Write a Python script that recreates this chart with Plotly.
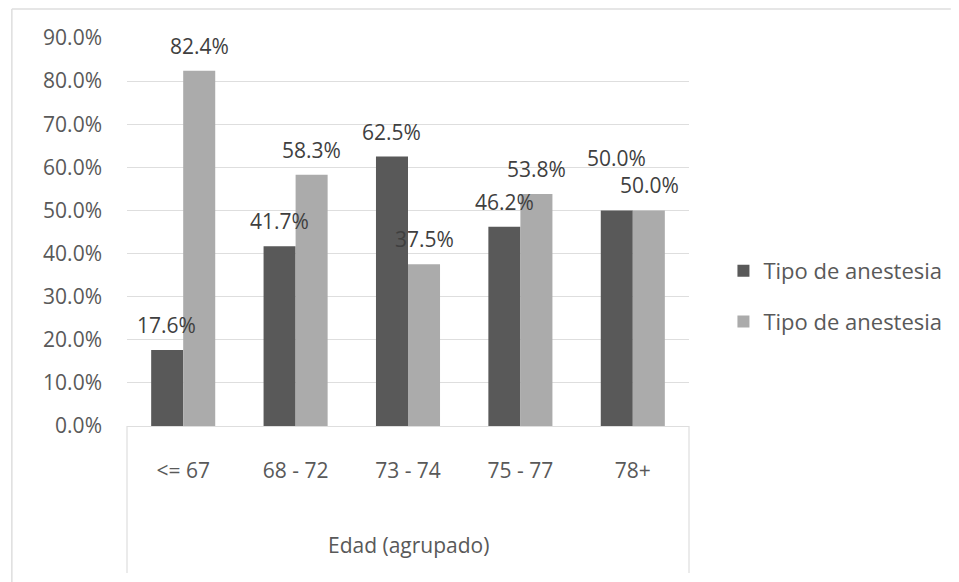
import plotly.graph_objects as go

# Age groups and share (%) per anaesthesia type
categorias = ["<= 67", "68 - 72", "73 - 74", "75 - 77", "78+"]
serie_1 = [17.6, 41.7, 62.5, 46.2, 50.0]
serie_2 = [82.4, 58.3, 37.5, 53.8, 50.0]
nombre_serie = "Tipo de anestesia"
ticks_y = [0, 10, 20, 30, 40, 50, 60, 70, 80, 90]

W, H = 959, 582
L, R, T, B = 127, 261, 38, 156
plot_w = W - L - R
plot_h = H - T - B

FONT = "Open Sans, Noto Sans, sans-serif"
TXT = "#595959"
LBL = "#3f3f3f"
C_DARK = "#595959"
C_LIGHT = "#ababab"
GRID = "#dedede"

fig = go.Figure()
fig.add_trace(go.Bar(x=categorias, y=serie_1, name=nombre_serie, legendgroup="a",
                     marker=dict(color=C_DARK, line=dict(width=0))))
fig.add_trace(go.Bar(x=categorias, y=serie_2, name=nombre_serie, legendgroup="b",
                     marker=dict(color=C_LIGHT, line=dict(width=0))))

# value labels above each bar
bar_px = plot_w / len(categorias) * (1 - 0.43) / 2
annotations = []
for k, serie in enumerate([serie_1, serie_2]):
    sign = -1 if k == 0 else 1
    for i, (cat, v) in enumerate(zip(categorias, serie)):
        lift = 25
        if k == 0 and i == len(categorias) - 1:
            lift = 52
        annotations.append(dict(
            x=cat, y=v, xref="x", yref="y", text=f"{v:.1f}%",
            showarrow=False, xshift=sign * bar_px / 2, yshift=lift,
            yanchor="middle", xanchor="center",
            font=dict(family=FONT, size=21, color=LBL)))

annotations.append(dict(
    x=0.5, y=(H - B - 545) / plot_h, xref="paper", yref="paper",
    text="Edad (agrupado)", showarrow=False, xanchor="center", yanchor="middle",
    font=dict(family=FONT, size=21, color=TXT)))

def px_x(p):
    return (p - L) / plot_w

def px_y(p):
    return (H - B - p) / plot_h

shapes = [
    # category box sides
    dict(type="line", xref="paper", yref="paper", x0=0, x1=0, y0=0, y1=px_y(573),
         line=dict(color=GRID, width=1.2)),
    dict(type="line", xref="paper", yref="paper", x0=1, x1=1, y0=0, y1=px_y(573),
         line=dict(color=GRID, width=1.2)),
    # outer chart border
    dict(type="line", xref="paper", yref="paper", x0=px_x(10), x1=px_x(W + 5),
         y0=px_y(9), y1=px_y(9), line=dict(color=GRID, width=1.5)),
    dict(type="line", xref="paper", yref="paper", x0=px_x(10), x1=px_x(10),
         y0=px_y(9), y1=px_y(H + 5), line=dict(color=GRID, width=1.5)),
]

fig.update_layout(
    width=W, height=H,
    margin=dict(l=L, r=R, t=T, b=B),
    paper_bgcolor="white", plot_bgcolor="white",
    barmode="group", bargap=0.43, bargroupgap=0,
    font=dict(family=FONT, size=21, color=TXT),
    showlegend=True,
    legend=dict(x=1.0 + (733 - 698) / plot_w, y=px_y(250), xanchor="left", yanchor="top",
                font=dict(family=FONT, size=22, color=TXT),
                itemsizing="constant", traceorder="grouped", tracegroupgap=19,
                itemwidth=30, bgcolor="rgba(0,0,0,0)"),
    annotations=annotations,
    shapes=shapes,
    xaxis=dict(showgrid=False, showline=True, linecolor=GRID, linewidth=1.2,
               ticks="", ticklabelstandoff=26, tickfont=dict(size=21, color=TXT),
               zeroline=False),
    yaxis=dict(range=[0, 90], tickvals=ticks_y,
               ticktext=[f"{t:.1f}%" for t in ticks_y],
               showgrid=True, gridcolor=GRID, gridwidth=1.2,
               zeroline=False, showline=False, ticks="",
               ticklabelstandoff=24, tickfont=dict(size=21, color=TXT)),
)

fig.write_html("out.html")
